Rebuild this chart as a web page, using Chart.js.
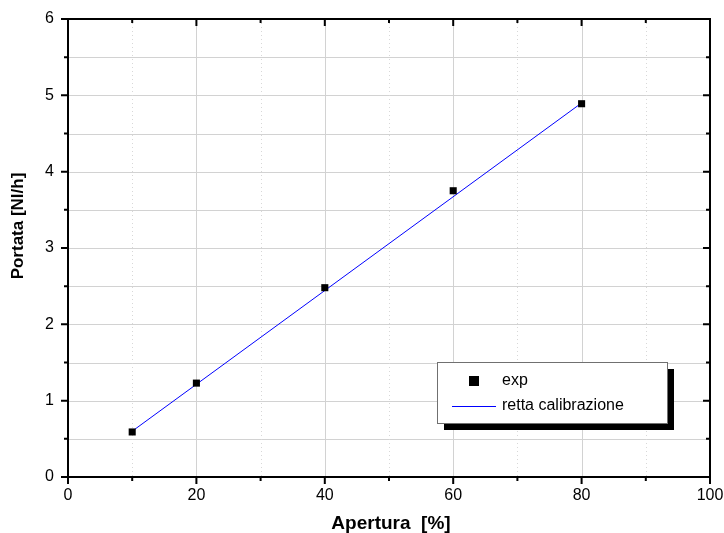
<!DOCTYPE html>
<html>
<head>
<meta charset="utf-8">
<script src="https://cdn.jsdelivr.net/npm/chart.js@4/dist/chart.umd.min.js"></script>
<style>
  html, body { margin: 0; padding: 0; background: #fff; }
  #wrap { width: 724px; height: 533px; position: relative; }
</style>
</head>
<body>
<div id="wrap"><canvas id="chart"></canvas></div>
<script>
// data
const apertura = [10, 20, 40, 60, 80];
const portata = [0.59, 1.23, 2.48, 3.75, 4.89];
const rettaX = [10, 80];
const rettaY = [0.6, 4.9];
const xTicks = [0, 20, 40, 60, 80, 100];
const yTicks = [0, 1, 2, 3, 4, 5, 6];
const xTitle = 'Apertura  [%]';
const yTitle = 'Portata [Nl/h]';

const FONT = "Liberation Sans, Arial, sans-serif";

function noPad(s) {
  s.paddingLeft = 0; s.paddingRight = 0; s.paddingTop = 0; s.paddingBottom = 0;
}

// frame, grid, minor ticks, titles, legend with shadow
const framePlugin = {
  id: 'frame',
  beforeDatasetsDraw(chart) {
    const { ctx, chartArea: a, scales: { x, y } } = chart;
    ctx.save();
    ctx.lineWidth = 1;
    // horizontal grid every 0.5
    ctx.strokeStyle = '#d2d2d2';
    for (let v = 0.5; v < 6; v += 0.5) {
      const py = Math.round(y.getPixelForValue(v)) + 0.5;
      ctx.beginPath(); ctx.moveTo(a.left, py); ctx.lineTo(a.right, py); ctx.stroke();
    }
    // vertical grid: solid at majors, dotted at minors
    for (let v = 10; v < 100; v += 10) {
      const px = Math.round(x.getPixelForValue(v)) + 0.5;
      ctx.setLineDash(v % 20 === 0 ? [] : [1, 3]);
      ctx.strokeStyle = v % 20 === 0 ? '#d2d2d2' : '#d8d8d8';
      ctx.beginPath(); ctx.moveTo(px, a.top); ctx.lineTo(px, a.bottom); ctx.stroke();
    }
    ctx.setLineDash([]);
    ctx.restore();
  },
  afterDatasetsDraw(chart) {
    const { ctx, chartArea: a, scales: { x, y } } = chart;
    ctx.save();
    ctx.strokeStyle = '#000';
    ctx.lineWidth = 2;
    ctx.strokeRect(a.left, a.top, a.right - a.left, a.bottom - a.top);
    // ticks
    for (let v = 0; v <= 100; v += 10) {
      const px = x.getPixelForValue(v);
      const len = v % 20 === 0 ? 7 : 4;
      ctx.beginPath();
      ctx.moveTo(px, a.bottom); ctx.lineTo(px, a.bottom + len);
      ctx.moveTo(px, a.top); ctx.lineTo(px, a.top + len);
      ctx.stroke();
    }
    for (let v = 0; v <= 6; v += 0.5) {
      const py = y.getPixelForValue(v);
      const len = Number.isInteger(v) ? 7 : 4;
      ctx.beginPath();
      ctx.moveTo(a.left - len, py); ctx.lineTo(a.left, py);
      ctx.moveTo(a.right - len, py); ctx.lineTo(a.right, py);
      ctx.stroke();
    }
    // axis titles
    ctx.fillStyle = '#000';
    ctx.textAlign = 'center';
    ctx.textBaseline = 'middle';
    ctx.font = 'bold 19px ' + FONT;
    ctx.fillText(xTitle, (a.left + a.right) / 2 + 2, 524);
    ctx.save();
    ctx.translate(18, 226);
    ctx.rotate(-Math.PI / 2);
    ctx.font = 'bold 17px ' + FONT;
    ctx.fillText(yTitle, 0, 0);
    ctx.restore();
    // legend
    const bx = 437, by = 362, bw = 230, bh = 61;
    ctx.fillStyle = '#000';
    ctx.fillRect(bx + 7, by + 7, bw, bh);
    ctx.fillStyle = '#fff';
    ctx.fillRect(bx, by, bw, bh);
    ctx.lineWidth = 1;
    ctx.strokeStyle = '#707070';
    ctx.strokeRect(bx + 0.5, by + 0.5, bw, bh);
    const ds = chart.data.datasets;
    ctx.font = '16px ' + FONT;
    ctx.textAlign = 'left';
    ctx.textBaseline = 'middle';
    ctx.fillStyle = '#000';
    ctx.fillRect(469, 376, 10, 10);
    ctx.fillText(ds[0].label, 502, 381);
    ctx.strokeStyle = ds[1].borderColor;
    ctx.beginPath(); ctx.moveTo(452, 406.5); ctx.lineTo(496, 406.5); ctx.stroke();
    ctx.fillText(ds[1].label, 502, 406);
    ctx.restore();
  }
};

new Chart(document.getElementById('chart'), {
  type: 'scatter',
  data: {
    datasets: [
      {
        label: 'exp',
        data: apertura.map((v, i) => ({ x: v, y: portata[i] })),
        pointStyle: 'rect',
        pointRadius: 5,
        backgroundColor: '#000',
        borderColor: '#000',
        borderWidth: 0,
        order: 0
      },
      {
        label: 'retta calibrazione',
        type: 'line',
        data: rettaX.map((v, i) => ({ x: v, y: rettaY[i] })),
        borderColor: '#0000ff',
        borderWidth: 1,
        pointRadius: 0,
        fill: false,
        order: 1
      }
    ]
  },
  options: {
    responsive: true,
    maintainAspectRatio: false,
    animation: false,
    layout: { padding: { top: 19, right: 14, left: 0, bottom: 0 } },
    plugins: { legend: { display: false }, tooltip: { enabled: false } },
    scales: {
      x: {
        type: 'linear',
        min: 0, max: 100,
        afterBuildTicks: s => { s.ticks = xTicks.map(v => ({ value: v })); },
        afterFit: s => { s.height = 56; noPad(s); },
        grid: { display: false, drawTicks: false },
        border: { display: false },
        ticks: { color: '#000', font: { family: FONT, size: 16 }, padding: 9, maxRotation: 0 },
        title: { display: false }
      },
      y: {
        type: 'linear',
        min: 0, max: 6,
        afterBuildTicks: s => { s.ticks = yTicks.map(v => ({ value: v })); },
        afterFit: s => { s.width = 68; noPad(s); },
        grid: { display: false, drawTicks: false },
        border: { display: false },
        ticks: { color: '#000', font: { family: FONT, size: 16 }, padding: 14 },
        title: { display: false }
      }
    }
  },
  plugins: [framePlugin]
});
</script>
</body>
</html>
